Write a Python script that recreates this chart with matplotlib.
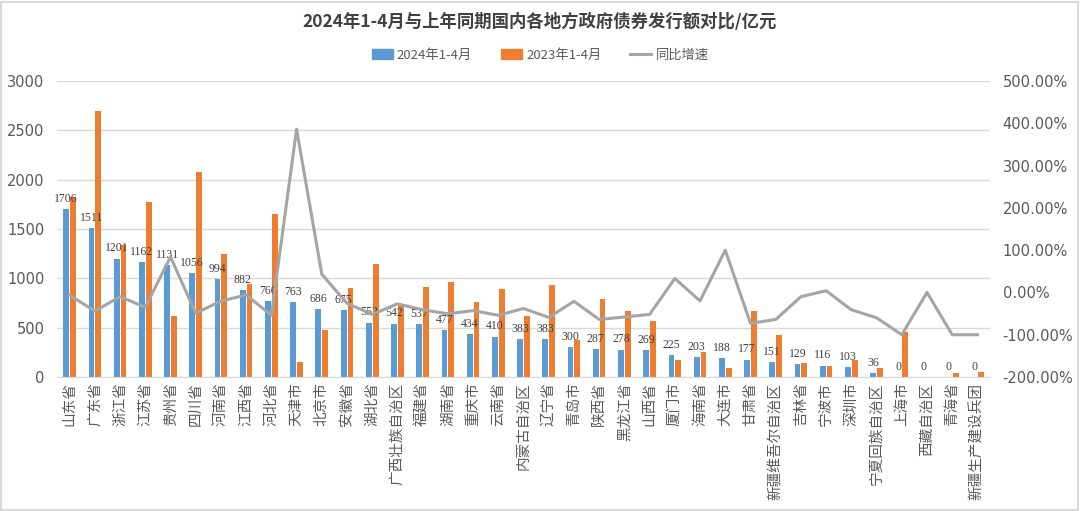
import numpy as np
import matplotlib
matplotlib.use("Agg")
import matplotlib.pyplot as plt
from matplotlib.patches import Patch, Rectangle
from matplotlib.lines import Line2D
from matplotlib.ticker import FuncFormatter

plt.rcParams['font.family'] = ['Noto Sans CJK SC', 'DejaVu Sans']

# 地区
regions = ["山东省", "广东省", "浙江省", "江苏省", "贵州省", "四川省", "河南省", "江西省",
           "河北省", "天津市", "北京市", "安徽省", "湖北省", "广西壮族自治区", "福建省",
           "湖南省", "重庆市", "云南省", "内蒙古自治区", "辽宁省", "青岛市", "陕西省",
           "黑龙江省", "山西省", "厦门市", "海南省", "大连市", "甘肃省", "新疆维吾尔自治区",
           "吉林省", "宁波市", "深圳市", "宁夏回族自治区", "上海市", "西藏自治区", "青海省",
           "新疆生产建设兵团"]
# 2024年1-4月 (亿元)
v2024 = [1706, 1511, 1201, 1162, 1131, 1056, 994, 882, 766, 763, 686, 675, 552, 542, 537,
         477, 434, 410, 383, 383, 300, 287, 278, 269, 225, 203, 188, 177, 151, 129, 116,
         103, 36, 0, 0, 0, 0]
# 2023年1-4月 (亿元, 从图上估读)
v2023 = [1826, 2695, 1336, 1776, 616, 2080, 1251, 940, 1657, 157, 480, 906, 1143, 744, 913,
         964, 761, 889, 616, 930, 379, 791, 666, 565, 169, 254, 94, 666, 423, 143, 112,
         175, 91, 457, 0, 44, 51]
# 同比增速 (%)
growth = [-6.6, -44, -10, -35, 84, -49, -20.5, -6, -54, 386, 43, -25.5, -52, -27, -41,
          -50.5, -43, -54, -38, -59, -21, -64, -58, -52, 33, -20, 100, -73, -64, -10, 4,
          -41, -60, -100, 0, -100, -100]

blue = "#5B9BD5"
orange = "#ED7D31"
gray = "#A5A5A5"
grid_c = "#D9D9D9"
txt_c = "#595959"

x = np.arange(len(regions))
w = 0.23

fig = plt.figure(figsize=(10.8, 5.11), dpi=100)
ax = fig.add_axes([0.0528, 0.2622, 0.8639, 0.5793])
ax2 = ax.twinx()

ax.bar(x - 0.135, v2024, width=w, color=blue, zorder=2)
ax.bar(x + 0.135, v2023, width=w, color=orange, zorder=2)
for xi, v in zip(x, v2024):
    ax.annotate(str(v), (xi - 0.135, v), xytext=(0, 3), textcoords="offset points",
                ha="center", va="bottom", fontsize=8.5, color="#404040",
                family="Liberation Serif", zorder=3)

ax2.plot(x, growth, color=gray, linewidth=2.2, zorder=4)

ax.set_xlim(-0.5, len(regions) - 0.5)
ax.set_ylim(0, 3000)
ax.set_yticks(np.arange(0, 3001, 500))
ax2.set_ylim(-200, 500)
ax2.set_yticks(np.arange(-200, 501, 100))
ax2.yaxis.set_major_formatter(FuncFormatter(lambda v, p: f"{v:.2f}%"))

ax.grid(axis="y", color=grid_c, linewidth=1, zorder=0)
ax.set_axisbelow(True)
for a in (ax, ax2):
    for s in a.spines.values():
        s.set_visible(False)
ax.spines["bottom"].set_visible(True)
ax.spines["bottom"].set_color(grid_c)

ax.set_xticks(x)
ax.set_xticklabels(regions, rotation=90, ha="center", va="top", fontsize=10.5, color=txt_c)
ax.tick_params(axis="x", length=0, pad=4)
ax.tick_params(axis="y", length=0, pad=9, labelsize=10.5, labelcolor=txt_c)
ax2.tick_params(axis="y", length=0, pad=9, labelsize=10.5, labelcolor=txt_c)
for t in ax.get_yticklabels() + ax2.get_yticklabels():
    t.set_family("DejaVu Sans")

fig.text(0.5, 0.957, "2024年1-4月与上年同期国内各地方政府债券发行额对比/亿元",
         ha="center", va="center", fontsize=12.5, color="#404040", fontweight="bold")

handles = [Patch(color=blue, label="2024年1-4月"),
           Patch(color=orange, label="2023年1-4月"),
           Line2D([], [], color=gray, linewidth=2.2, label="同比增速")]
fig.legend(handles=handles, loc="center", bbox_to_anchor=(0.5, 0.892), ncol=3, frameon=False,
           fontsize=9.5, handlelength=1.6, handleheight=0.7, columnspacing=2.2,
           handletextpad=0.3, labelcolor=txt_c)

fig.patches.append(Rectangle((0.001, 0.002), 0.997, 0.995, transform=fig.transFigure,
                             fill=False, edgecolor=grid_c, linewidth=1.5))

fig.savefig("out.png", dpi=100)
